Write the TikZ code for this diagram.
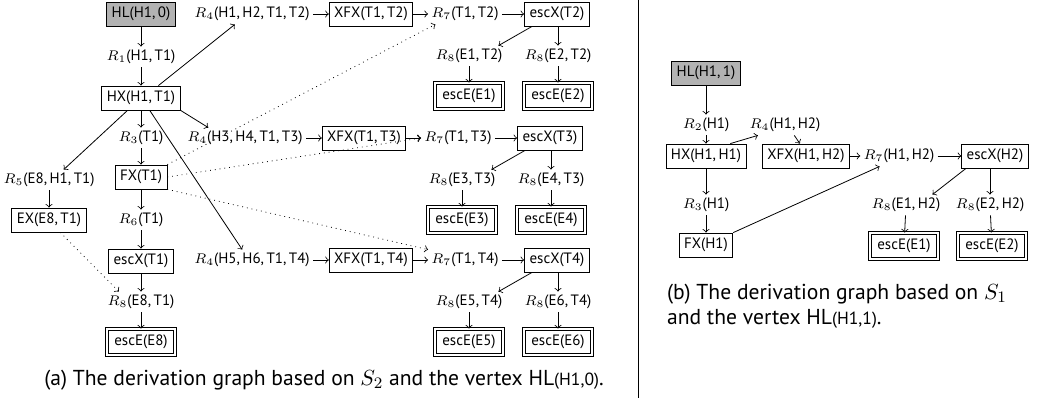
\documentclass[tikz,border=0pt]{standalone}
\usepackage{fontspec}
\setmainfont{PT Sans}
\usetikzlibrary{arrows.meta,positioning,calc}

% rule label: R_i(args)
\newcommand{\rl}[2]{$R_{#1}$(#2)}
\newcommand{\capfont}{\fontsize{10.8}{12.5}\selectfont}
\newcommand{\subfont}{\fontsize{8.8}{10}\selectfont}

\begin{document}
\begin{tikzpicture}[x=0.5pt, y=-0.5pt, font=\fontsize{7.5}{9}\selectfont, >=to]
    \tikzset{vx/.style={draw, inner xsep=2.5pt, inner ysep=0pt, minimum height=12pt},
        hlbox/.style={vx, fill=gray!60},
        escbox/.style={vx, double, double distance=1.1pt, line width=0.45pt, inner xsep=3.6pt, minimum height=13pt},
        lbl/.style={inner sep=1.5pt},
        dep/.style={->, dotted}}

    \useasboundingbox (0,0) rectangle (1038,405);

    % (a) graph from HL(H1,0)
    \node[hlbox] (hl) at (141,14) {HL(H1,\,0)};
    \node[lbl] (r1) at (141,57) {\rl{1}{H1,\,T1}};
    \node[vx] (hx) at (141,98) {HX(H1,\,T1)};
    \node[lbl] (r3) at (141,138) {\rl{3}{T1}};
    \node[vx] (fx) at (141,177) {FX(T1)};
    \node[lbl] (r5) at (49,180) {\rl{5}{E8,\,H1,\,T1}};
    \node[vx] (ex) at (49,220) {EX(E8,\,T1)};
    \node[lbl] (r6) at (141,220) {\rl{6}{T1}};
    \node[vx] (escx) at (141,261) {escX(T1)};
    \node[lbl] (r8e) at (141,302) {\rl{8}{E8,\,T1}};
    \node[escbox] (escee) at (141,342) {escE(E8)};

    \draw[->] (hl) -- (r1);
    \draw[->] (r1) -- (hx);
    \draw[->] (hx) -- (r3);
    \draw[->] (r3) -- (fx);
    \draw[->] (fx) -- (r6);
    \draw[->] (r6) -- (escx);
    \draw[->] (escx) -- (r8e);
    \draw[->] (r8e) -- (escee);
    \draw[->] ($(hx.south west)!0.33!(hx.south east)$) -- ($(r5.north west)!0.65!(r5.north east)$);
    \draw[->] (r5) -- (ex);
    \draw[dep] ($(ex.south west)!0.65!(ex.south east)$) -- ($(r8e.north west)!0.2!(r8e.north east)$);

    % one chain per transition
    \foreach \t/\y/\dx/\ha/\hb/\ea/\eb in {T2/14/0/H1/H2/E1/E2, T3/138/-7/H3/H4/E3/E4, T4/260/0/H5/H6/E5/E6} {
            \node[lbl] (rf\t) at (252+\dx,\y) {\rl{4}{\ha,\,\hb,\,T1,\,\t}};
            \node[vx] (xfx\t) at (371+\dx,\y) {XFX(T1,\,\t)};
            \node[lbl] (rs\t) at (465+\dx,\y) {\rl{7}{T1,\,\t}};
            \node[vx] (escx\t) at (557+\dx,\y) {escX(\t)};
            \node[lbl] (r8\ea) at (469+\dx,\y+42) {\rl{8}{\ea,\,\t}};
            \node[lbl] (r8\eb) at (558+\dx,\y+42) {\rl{8}{\eb,\,\t}};
            \node[escbox] (esce\ea) at (469+\dx,\y+82) {escE(\ea)};
            \node[escbox] (esce\eb) at (558+\dx,\y+82) {escE(\eb)};

            \draw[->] (rf\t) -- (xfx\t);
            \draw[->] (xfx\t) -- (rs\t);
            \draw[->] (rs\t) -- (escx\t);
            \draw[->] ($(escx\t.south west)!0.12!(escx\t.south east)$) -- ($(r8\ea.north west)!0.9!(r8\ea.north east)$);
            \draw[->] (r8\eb |- escx\t.south) -- (r8\eb);
            \draw[->] (r8\ea) -- (esce\ea);
            \draw[->] (r8\eb) -- (esce\eb);
        }

    \draw[->] ($(hx.north west)!0.72!(hx.north east)$) -- ($(rfT2.south west)!0.36!(rfT2.south east)$);
    \draw[->] (hx.south east) -- ($(rfT3.north west)!0.2!(rfT3.north east)$);
    \draw[->] ($(hx.south west)!0.61!(hx.south east)$) -- ($(rfT4.north west)!0.42!(rfT4.north east)$);
    \draw[dep] (fx.north east) -- ($(rsT2.south west)!0.1!(rsT2.south east)$);
    \draw[dep] (fx.east) -- (rsT3.west);
    \draw[dep] (fx.south east) -- (rsT4.north west);

    \node[font=\capfont] (capa) at (324,380) {(a) The derivation graph based on $S_2$ and the vertex HL{\subfont(H1,0)}.};

    \draw (638,0) -- (638,398);

    % (b) graph from HL(H1,1)
    \node[hlbox] (hlb) at (706,73) {HL(H1,\,1)};
    \node[lbl] (r2b) at (706,125) {\rl{2}{H1}};
    \node[lbl] (r4b) at (785,125) {\rl{4}{H1,\,H2}};
    \node[vx] (hxb) at (706,156) {HX(H1,\,H1)};
    \node[vx] (xfxb) at (806,156) {XFX(H1,\,H2)};
    \node[lbl] (r7b) at (899,156) {\rl{7}{H1,\,H2}};
    \node[vx] (escxb) at (995,156) {escX(H2)};
    \node[lbl] (r3b) at (706,205) {\rl{3}{H1}};
    \node[lbl] (r8b1) at (906,205) {\rl{8}{E1,\,H2}};
    \node[lbl] (r8b2) at (990,205) {\rl{8}{E2,\,H2}};
    \node[vx] (fxb) at (706,245) {FX(H1)};
    \node[escbox] (esceb1) at (904,246) {escE(E1)};
    \node[escbox] (esceb2) at (992,246) {escE(E2)};

    \draw[->] (hlb) -- (r2b);
    \draw[->] (r2b) -- (hxb);
    \draw[->] (hxb) -- (r3b);
    \draw[->] (r3b) -- (fxb);
    \draw[->] ($(hxb.north west)!0.8!(hxb.north east)$) -- ($(r4b.south west)!0.15!(r4b.south east)$);
    \draw[->] ($(r4b.south west)!0.62!(r4b.south east)$) -- ($(xfxb.north west)!0.43!(xfxb.north east)$);
    \draw[->] (xfxb) -- (r7b);
    \draw[->] (r7b) -- (escxb);
    \draw[->] (fxb.north east) -- ($(r7b.south west)!0.25!(r7b.south east)$);
    \draw[->] ($(escxb.south west)!0.07!(escxb.south east)$) -- ($(r8b1.north west)!0.85!(r8b1.north east)$);
    \draw[->] (r8b2 |- escxb.south) -- (r8b2);
    \draw[->] (r8b1) -- (esceb1);
    \draw[->] (r8b2) -- (esceb2);

    \node[font=\capfont, anchor=north west, align=left] (capb) at (660,277) {(b) The derivation graph based on $S_1$\\and the vertex HL{\subfont(H1,1)}.};
\end{tikzpicture}
\end{document}
